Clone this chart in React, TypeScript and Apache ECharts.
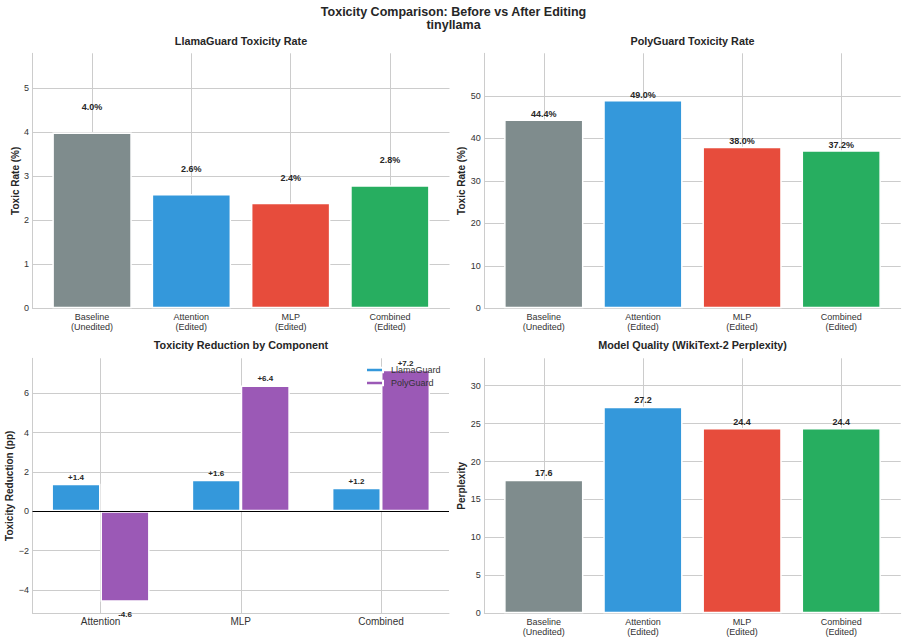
import React, { useEffect, useRef } from 'react';
import * as echarts from 'echarts';

// ---------- data ----------
const categories = ['Baseline\n(Unedited)', 'Attention\n(Edited)', 'MLP\n(Edited)', 'Combined\n(Edited)'];
const llamaGuardRates = [4.0, 2.6, 2.4, 2.8];
const polyGuardRates = [44.4, 49.0, 38.0, 37.2];
const perplexities = [17.6, 27.2, 24.4, 24.4];
const components = ['Attention', 'MLP', 'Combined'];
const llamaGuardReduction = [1.4, 1.6, 1.2];
const polyGuardReduction = [-4.6, 6.4, 7.2];
const barColors = ['#7f8c8d', '#3498db', '#e74c3c', '#27ae60'];
const LG_COLOR = '#3498db';
const PG_COLOR = '#9b59b6';

const mainTitle = 'Toxicity Comparison: Before vs After Editing';
const subTitle = 'tinyllama';
const panelTitles = [
  'LlamaGuard Toxicity Rate',
  'PolyGuard Toxicity Rate',
  'Toxicity Reduction by Component',
  'Model Quality (WikiText-2 Perplexity)',
];

// ---------- style / layout ----------
const FONT = '"Liberation Sans", Arial, Helvetica, sans-serif';
const GRID = '#cccccc';
const TXT = '#262626';
const TICK = '#333333';
const CLEAR = 'rgba(0,0,0,0)';

const panels = [
  { left: 32.5, top: 53.3, width: 417, height: 255 },
  { left: 484.3, top: 53.3, width: 416.4, height: 255 },
  { left: 32.5, top: 358.3, width: 416.5, height: 255 },
  { left: 484.3, top: 358.3, width: 416.4, height: 255 },
];

function splitColors(n: number) {
  const arr: string[] = [];
  for (let i = 0; i < n - 1; i++) arr.push(GRID);
  arr.push(CLEAR);
  return arr;
}

function xAxisFor(gridIndex: number, labels: string[], min: number, max: number, splitNumber: number, fontSize: number) {
  return {
    type: 'value',
    gridIndex,
    min,
    max,
    splitNumber,
    axisLine: { show: true, onZero: false, lineStyle: { color: GRID, width: 1 } },
    axisTick: { show: false },
    axisLabel: {
      showMinLabel: false,
      showMaxLabel: false,
      margin: 3,
      fontSize,
      lineHeight: 10.5,
      color: TICK,
      fontFamily: FONT,
      formatter: (v: number) => {
        const i = Math.round(v);
        return Math.abs(v - i) < 1e-6 && labels[i] !== undefined ? labels[i] : '';
      },
    },
    splitLine: {
      show: true,
      showMinLine: false,
      showMaxLine: false,
      lineStyle: { color: [GRID, GRID, GRID, GRID, GRID, CLEAR], width: 1 },
    },
  };
}

function yAxisFor(gridIndex: number, name: string, nameGap: number, min: number, max: number, extra: any) {
  return {
    type: 'value',
    gridIndex,
    min,
    max,
    ...extra,
    name,
    nameLocation: 'middle',
    nameGap,
    nameTextStyle: { fontSize: 10, fontWeight: 'bold', color: TXT, fontFamily: FONT },
    axisLine: { show: true, onZero: false, lineStyle: { color: GRID, width: 1 } },
    axisTick: { show: false },
    axisLabel: {
      showMinLabel: extra.interval !== undefined,
      showMaxLabel: false,
      margin: 3.5,
      fontSize: 9,
      color: TICK,
      fontFamily: FONT,
      formatter: (v: number) => String(v).replace('-', '\u2212'),
    },
    splitLine: {
      show: true,
      showMinLine: false,
      showMaxLine: false,
      lineStyle: { color: splitColors(9), width: 1 },
    },
  };
}

function catBarSeries(idx: number, values: number[], suffix: string, distance: number) {
  const pxPerUnit = panels[idx].width / 4.2;
  return {
    type: 'bar',
    xAxisIndex: idx,
    yAxisIndex: idx,
    barWidth: 0.8 * pxPerUnit,
    data: values.map((v, i) => ({ value: [i, v], itemStyle: { color: barColors[i] } })),
    itemStyle: { borderColor: '#ffffff', borderWidth: 1.5 },
    label: {
      show: true,
      position: 'top',
      distance,
      formatter: (p: any) => p.value[1].toFixed(1) + suffix,
      fontSize: 9,
      fontWeight: 'bold',
      color: TXT,
      fontFamily: FONT,
    },
  };
}

function reductionSeries(name: string, values: number[], color: string, withZeroLine: boolean) {
  const pxPerUnit = panels[2].width / 2.97;
  const s: any = {
    name,
    type: 'bar',
    xAxisIndex: 2,
    yAxisIndex: 2,
    barWidth: 0.35 * pxPerUnit,
    barGap: '0%',
    itemStyle: { color, borderColor: '#ffffff', borderWidth: 1.5 },
    data: values.map((v, i) => ({
      value: [i, v],
      label: v < 0 ? { position: 'bottom', distance: 8.5 } : { position: 'top', distance: 2.6 },
    })),
    label: {
      show: true,
      formatter: (p: any) => {
        const v = p.value[1];
        return (v >= 0 ? '+' : '') + v.toFixed(1);
      },
      fontSize: 8,
      fontWeight: 'bold',
      color: TXT,
      fontFamily: FONT,
    },
  };
  if (withZeroLine) {
    s.markLine = {
      silent: true,
      symbol: 'none',
      label: { show: false },
      lineStyle: { color: '#000000', width: 1.2, type: 'solid' },
      data: [{ yAxis: 0 }],
    };
  }
  return s;
}

function textEl(text: string, x: number, y: number, size: number) {
  return {
    type: 'text',
    x,
    y,
    style: {
      text,
      fill: TXT,
      font: `bold ${size}px ${FONT}`,
      textAlign: 'center',
      textVerticalAlign: 'middle',
    },
  };
}

export default function App() {
  const ref = useRef<HTMLDivElement>(null);

  useEffect(() => {
    if (!ref.current) return;
    const chart = echarts.init(ref.current, null, { renderer: 'svg' });

    const option: any = {
      animation: false,
      backgroundColor: '#ffffff',
      textStyle: { fontFamily: FONT },
      grid: panels.map((p) => ({ ...p, containLabel: false, outerBoundsMode: 'none' })),
      xAxis: [
        xAxisFor(0, categories, -0.6, 3.6, 4, 9),
        xAxisFor(1, categories, -0.6, 3.6, 4, 9),
        xAxisFor(2, components, -0.485, 2.485, 3, 10),
        xAxisFor(3, categories, -0.6, 3.6, 4, 9),
      ],
      yAxis: [
        yAxisFor(0, 'Toxic Rate (%)', 12, 0, 5.8, { interval: 1 }),
        yAxisFor(1, 'Toxic Rate (%)', 17, 0, 60, { interval: 10 }),
        yAxisFor(2, 'Toxicity Reduction (pp)', 17.5, -5.19, 7.78, { splitNumber: 6 }),
        yAxisFor(3, 'Perplexity', 17.5, 0, 33.6, { interval: 5 }),
      ],
      legend: {
        data: ['LlamaGuard', 'PolyGuard'],
        orient: 'vertical',
        left: 365,
        top: 364.5,
        padding: 0,
        itemWidth: 17,
        itemHeight: 4.5,
        itemGap: 2,
        icon: 'rect',
        selectedMode: false,
        textStyle: { fontSize: 9, color: TICK, fontFamily: FONT, lineHeight: 11, padding: [0, 0, 0, 3] },
      },
      series: [
        catBarSeries(0, llamaGuardRates, '%', 20.5),
        catBarSeries(1, polyGuardRates, '%', 1),
        reductionSeries('LlamaGuard', llamaGuardReduction, LG_COLOR, true),
        reductionSeries('PolyGuard', polyGuardReduction, PG_COLOR, false),
        catBarSeries(3, perplexities, '', 2),
      ],
      graphic: [
        textEl(mainTitle, 453.5, 12, 12.5),
        textEl(subTitle, 453.5, 25, 12.5),
        textEl(panelTitles[0], 241, 40.7, 10.8),
        textEl(panelTitles[1], 692.5, 40.7, 10.8),
        textEl(panelTitles[2], 241, 345.3, 10.8),
        textEl(panelTitles[3], 692.5, 345.3, 10.8),
      ],
    };

    chart.setOption(option);
    return () => chart.dispose();
  }, []);

  return (
    <div
      ref={ref}
      style={{ position: 'fixed', left: 0, top: 0, width: 907, height: 641, background: '#ffffff' }}
    />
  );
}
